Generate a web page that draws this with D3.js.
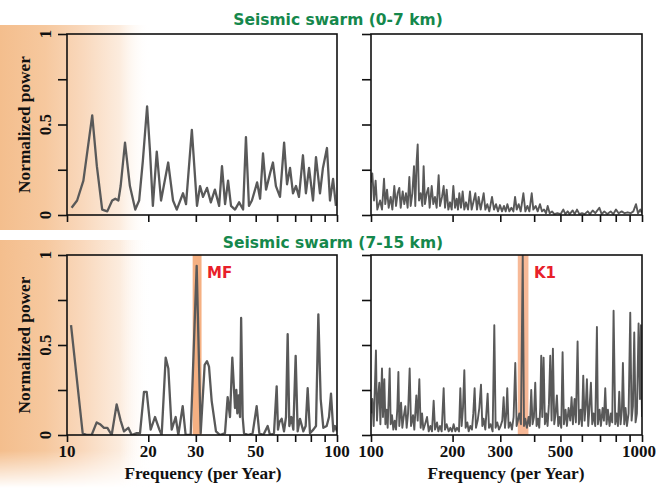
<!DOCTYPE html>
<html><head><meta charset="utf-8">
<script src="https://cdn.jsdelivr.net/npm/d3@7"></script>
<style>html,body{margin:0;padding:0;background:#fff;}svg{display:block;}</style>
</head><body>
<svg id="chart" width="657" height="488"></svg>
<script>
// ---------- DATA ----------
const titles = ["Seismic swarm (0-7 km)", "Seismic swarm (7-15 km)"];
const yLabel = "Normalized power";
const xLabel = "Frequency (per Year)";
const yTicks = [0, 0.25, 0.5, 0.75, 1];
const yTickLabels = [0, 0.5, 1];
const xTicksLow = [10, 20, 30, 40, 50, 60, 70, 80, 90, 100];
const xTicksHigh = [100, 200, 300, 400, 500, 600, 700, 800, 900, 1000];
const xTickLabelsLow = [10, 20, 30, 50, 100];
const xTickLabelsHigh = [100, 200, 300, 500, 1000];
const bandMF = [29.2, 31.5];
const bandK1 = [348, 381];

// top-left: 0-7 km, 10-100 per year
const freqTL = [10.4,10.9,11.5,12.4,12.9,13.5,14.1,14.7,15.1,15.5,15.8,16.4,17.1,17.9,18.5,19.1,19.8,20.3,20.8,21.5,22.3,23.7,24.7,25.5,26.9,27.6,29.0,30.3,31.1,31.9,33.0,34.1,35.3,36.6,37.5,38.5,39.5,40.5,41.9,43.4,44.9,46.0,47.2,48.4,50.6,51.9,53.2,54.6,56.5,57.9,59.4,61.5,63.7,65.3,67.0,68.7,70.5,72.3,74.8,76.7,78.8,81.5,83.6,86.5,88.7,91.8,94.2,96.7,99.1];
const powTL  = [0.04,0.08,0.19,0.55,0.27,0.03,0.02,0.08,0.09,0.08,0.16,0.40,0.16,0.03,0.08,0.30,0.60,0.35,0.05,0.35,0.08,0.29,0.08,0.03,0.12,0.06,0.47,0.05,0.16,0.10,0.15,0.07,0.14,0.05,0.27,0.06,0.19,0.05,0.03,0.07,0.03,0.43,0.05,0.08,0.18,0.09,0.34,0.14,0.23,0.29,0.16,0.10,0.40,0.17,0.26,0.12,0.16,0.10,0.33,0.12,0.26,0.08,0.32,0.12,0.26,0.37,0.08,0.20,0.05];

// top-right: 0-7 km, 100-1000 per year
const freqTR = [100,101.1,102.6,104.0,105.5,108.0,109.8,111.7,112.9,114.6,116.2,118.2,119.9,121.9,123.7,125.4,127.2,128.7,130.9,132.7,134.6,136.5,138.5,140.1,142.1,144.1,145.7,147.4,148.7,150.4,152.5,154.7,156.4,158.2,160.5,162.7,164.6,167.5,169.8,172.2,174.7,177.7,179.7,182.8,185.4,187.6,190.2,192.9,195.7,198.5,201.3,204.2,207.1,209.4,211.8,214.8,217.9,221.0,224.2,228.0,231.9,235.2,238.6,242.7,246.1,249.6,253.9,256.8,260.5,264.2,268.7,273.3,279.6,284.4,289.3,294.2,299.2,304.4,309.6,314.1,318.6,324.1,329.6,335.3,340.1,344.9,350.8,356.8,365.0,371.2,377.6,384.1,391.8,397.2,405.2,412.1,420.4,427.6,435.0,442.4,448.7,456.4,465.5,474.8,487.1,501.2,512.6,521.4,531.8,540.9,554.9,564.4,575.7,587.3,600.7,614.4,630.3,642.9,657.6,672.7,696.1,710.0,726.1,745.0,766.3,783.9,801.8,820.2,841.4,863.0,885.4,908.2,929.0,950.4,966.5,985.8,1000];
const powTR  = [0.18,0.23,0.08,0.19,0.03,0.08,0.03,0.20,0.06,0.14,0.04,0.10,0.03,0.16,0.05,0.12,0.15,0.04,0.13,0.06,0.12,0.04,0.21,0.05,0.12,0.27,0.05,0.30,0.39,0.08,0.12,0.05,0.27,0.06,0.12,0.15,0.04,0.16,0.06,0.10,0.04,0.22,0.05,0.10,0.16,0.04,0.14,0.03,0.07,0.03,0.16,0.04,0.09,0.03,0.12,0.04,0.13,0.03,0.07,0.03,0.13,0.03,0.07,0.12,0.03,0.10,0.03,0.07,0.12,0.03,0.06,0.02,0.10,0.03,0.06,0.02,0.055,0.02,0.05,0.02,0.06,0.02,0.04,0.02,0.10,0.03,0.06,0.02,0.12,0.02,0.05,0.02,0.12,0.03,0.05,0.02,0.06,0.02,0.03,0.01,0.05,0.01,0.02,0.005,0.01,0.005,0.03,0.005,0.02,0.005,0.025,0.005,0.03,0.005,0.01,0.005,0.02,0.005,0.025,0.01,0.04,0.005,0.02,0.005,0.02,0.005,0.03,0.01,0.02,0.01,0.015,0.01,0.02,0.06,0.01,0.03,0.01];

// bottom-left: 7-15 km, 10-100 per year
const freqBL = [10.35,11.43,11.83,12.34,12.88,13.25,13.71,14.11,14.64,15.27,15.80,16.26,16.87,17.36,18.12,18.64,19.28,19.73,20.41,21.18,21.98,22.42,23.20,23.73,24.42,25.26,25.84,26.82,27.51,28.71,30.22,31.27,32.35,33.0,33.57,34.34,35.63,36.87,38.47,39.36,40.15,40.95,41.90,42.38,42.74,43.23,43.73,44.15,44.73,45.24,46.95,48.71,50.40,51.56,53.36,55.36,56.47,58.43,59.78,60.46,61.15,62.38,63.64,64.73,65.66,66.60,67.74,68.91,70.29,71.50,72.94,75.05,76.55,77.87,79.43,81.73,83.60,85.29,87.00,89.00,91.57,93.41,95.01,96.92,98.31,100];
const powBL  = [0.61,0.01,0.00,0.00,0.07,0.06,0.04,0.04,0.00,0.17,0.08,0.02,0.04,0.00,0.01,0.01,0.24,0.24,0.03,0.10,0.03,0.00,0.43,0.37,0.03,0.10,0.00,0.16,0.00,0.00,0.94,0.01,0.39,0.41,0.38,0.19,0.02,0.00,0.01,0.21,0.10,0.43,0.15,0.25,0.12,0.22,0.10,0.65,0.10,0.01,0.00,0.01,0.16,0.01,0.00,0.05,0.00,0.01,0.27,0.03,0.07,0.09,0.02,0.10,0.56,0.05,0.10,0.03,0.44,0.02,0.09,0.02,0.05,0.26,0.01,0.03,0.05,0.67,0.20,0.04,0.05,0.10,0.23,0.02,0.05,0.02];

// bottom-right: 7-15 km, 100-1000 per year
const freqBR = [100,101.1,102.3,103.5,104.3,105.2,106.4,107.3,108.3,109.2,109.8,110.7,112.0,113.0,114.2,115.2,116.2,117.2,118.2,119.5,120.9,122.3,123.7,125.1,126.2,127.2,129.1,130.5,132.0,133.9,135.4,137.0,138.9,140.5,142.9,144.5,147.0,148.7,150.8,152.5,154.3,156.0,158.3,161.0,163.3,165.6,167.9,170.3,172.3,175.2,177.2,179.7,182.3,185.4,187.5,190.2,193.5,196.2,199.0,201.8,204.7,207.6,211.2,213.6,216.0,218.5,221.0,223.5,226.7,229.3,232.5,235.8,238.5,241.2,244.0,247.5,251.0,254.6,257.5,260.4,264.1,269.4,272.5,276.3,281.1,285.1,288.3,292.4,296.6,300.8,305.1,308.6,312.1,315.6,318.3,322.0,326.5,331.2,335.9,340.7,344.6,348.5,352.5,357.5,363.0,366.9,371.1,376.1,381.5,385.8,390.2,394.7,399.2,403.7,408.3,413.0,417.7,421.2,424.8,428.5,433.4,438.3,443.3,448.3,453.4,458.6,463.8,469.1,474.5,479.9,485.3,490.9,496.5,503.5,509.3,515.1,522.4,528.4,535.9,543.5,549.7,556.0,563.9,570.3,578.5,585.1,593.4,600.2,607.0,613.9,620.9,626.2,633.3,640.6,647.9,655.2,662.7,672.2,681.8,687.6,697.4,705.3,715.4,723.5,731.8,740.1,748.6,759.2,767.9,776.6,785.5,796.7,805.8,815.0,824.2,833.6,843.1,850.3,860.0,869.8,879.7,892.3,905.0,915.3,925.7,936.3,946.9,957.7,971.4,982.5,990.8,1000];
const powBR  = [0.12,0.20,0.05,0.30,0.47,0.08,0.22,0.29,0.06,0.25,0.37,0.10,0.31,0.06,0.14,0.04,0.20,0.37,0.06,0.11,0.03,0.08,0.03,0.15,0.35,0.05,0.18,0.04,0.10,0.16,0.04,0.12,0.37,0.05,0.11,0.03,0.22,0.08,0.31,0.04,0.12,0.03,0.06,0.10,0.02,0.05,0.02,0.19,0.03,0.07,0.02,0.05,0.02,0.26,0.03,0.06,0.02,0.04,0.02,0.06,0.02,0.04,0.02,0.26,0.05,0.15,0.36,0.04,0.07,0.02,0.05,0.03,0.12,0.26,0.04,0.08,0.15,0.28,0.05,0.09,0.03,0.23,0.04,0.06,0.02,0.61,0.04,0.07,0.03,0.05,0.08,0.21,0.04,0.12,0.26,0.04,0.07,0.03,0.10,0.40,0.05,0.08,0.12,0.06,1.00,0.05,0.09,0.04,0.10,0.05,0.25,0.06,0.10,0.29,0.05,0.09,0.04,0.15,0.44,0.10,0.43,0.06,0.12,0.05,0.17,0.44,0.08,0.48,0.06,0.12,0.22,0.05,0.10,0.04,0.46,0.06,0.14,0.05,0.15,0.08,0.21,0.06,0.20,0.07,0.52,0.06,0.14,0.05,0.33,0.08,0.18,0.31,0.05,0.16,0.29,0.06,0.12,0.05,0.60,0.06,0.14,0.05,0.15,0.08,0.26,0.06,0.14,0.05,0.12,0.07,0.69,0.06,0.12,0.05,0.24,0.06,0.14,0.40,0.06,0.15,0.05,0.12,0.68,0.08,0.16,0.57,0.07,0.12,0.62,0.20,0.61,0.10];

// ---------- DRAW ----------
const svg = d3.select("#chart");
const defs = svg.append("defs");

// orange left-side background wash
const grad = defs.append("linearGradient").attr("id","wash").attr("x1","0").attr("x2","1").attr("y1","0").attr("y2","0");
[[0,"#f4be8d",1],[0.3,"#f6c89e",1],[0.55,"#f9d8bc",1],[0.8,"#fcecde",1],[1,"#ffffff",0]].forEach(s=>
  grad.append("stop").attr("offset",s[0]).attr("stop-color",s[1]).attr("stop-opacity",s[2]));
const vgrad = defs.append("linearGradient").attr("id","vfade").attr("x1","0").attr("x2","0").attr("y1","0").attr("y2","1");
[[0,"#fff",1],[0.85,"#fff",1],[1,"#fff",0]].forEach(s=>
  vgrad.append("stop").attr("offset",s[0]).attr("stop-color",s[1]).attr("stop-opacity",s[2]));
defs.append("mask").attr("id","bmask").append("rect").attr("x",0).attr("y",240).attr("width",160).attr("height",248).attr("fill","url(#vfade)");
svg.append("rect").attr("x",0).attr("y",25).attr("width",150).attr("height",205).attr("fill","url(#wash)");
svg.append("rect").attr("x",0).attr("y",240).attr("width",150).attr("height",248).attr("fill","url(#wash)").attr("mask","url(#bmask)");

const panels = [
  {x0:67, x1:337, y0:34, y1:215, dom:[10,100], ticks:xTicksLow, f:freqTL, p:powTL, left:true, bottom:false, sw:2.3},
  {x0:371, x1:642, y0:34, y1:215, dom:[100,1000], ticks:xTicksHigh, f:freqTR, p:powTR, left:false, bottom:false, sw:1.9},
  {x0:67, x1:337, y0:255, y1:435, dom:[10,100], ticks:xTicksLow, labels:xTickLabelsLow, f:freqBL, p:powBL, left:true, bottom:true, sw:2.3, band:bandMF, bandColor:"#f3a26c", bandLabel:"MF", labelX:207, xlabX:203},
  {x0:371, x1:642, y0:255, y1:435, dom:[100,1000], ticks:xTicksHigh, labels:xTickLabelsHigh, f:freqBR, p:powBR, left:false, bottom:true, sw:1.9, band:bandK1, bandColor:"#f6ad85", bandLabel:"K1", labelX:534, xlabX:506}
];

panels.forEach((P,i)=>{
  const x = d3.scaleLog().domain(P.dom).range([P.x0,P.x1]);
  const y = d3.scaleLinear().domain([0,1]).range([P.y1,P.y0]);
  const g = svg.append("g");
  const cid = "clip"+i;
  defs.append("clipPath").attr("id",cid).append("rect").attr("x",P.x0).attr("y",P.y0).attr("width",P.x1-P.x0).attr("height",P.y1-P.y0);

  if (P.band) {
    g.append("rect").attr("x",x(P.band[0])).attr("y",P.y0).attr("width",x(P.band[1])-x(P.band[0])).attr("height",P.y1-P.y0)
      .attr("fill",P.bandColor).attr("opacity",0.85);
  }

  const data = P.f.map((f,k)=>[f,P.p[k]]);
  g.append("path").datum(data).attr("clip-path",`url(#${cid})`)
    .attr("d", d3.line().x(d=>x(d[0])).y(d=>y(d[1])))
    .attr("fill","none").attr("stroke","#595959").attr("stroke-width",P.sw).attr("stroke-linejoin","round");

  // frame
  g.append("rect").attr("x",P.x0).attr("y",P.y0).attr("width",P.x1-P.x0).attr("height",P.y1-P.y0)
    .attr("fill","none").attr("stroke","#111").attr("stroke-width",1.6);

  // x axis
  const xa = g.append("g").attr("transform",`translate(0,${P.y1})`)
    .call(d3.axisBottom(x).tickValues(P.ticks).tickSize(7).tickSizeOuter(0).tickFormat(""));
  xa.select(".domain").remove();
  xa.selectAll("line").attr("stroke","#111").attr("stroke-width",1.6);
  if (P.labels) {
    g.selectAll(null).data(P.labels).enter().append("text")
      .attr("x",d=> d===1000 ? 656 : x(d)).attr("y",P.y1+22).attr("text-anchor",d=> d===1000 ? "end" : "middle")
      .attr("font-family","'Liberation Serif', 'Times New Roman', serif").attr("font-weight","bold").attr("font-size",17)
      .attr("fill","#111").text(d=>d);
    g.append("text").attr("x",P.xlabX).attr("y",P.y1+44).attr("text-anchor","middle")
      .attr("font-family","'Liberation Serif', 'Times New Roman', serif").attr("font-weight","bold").attr("font-size",17.3)
      .attr("fill","#111").text(xLabel);
  }

  // y axis
  const ya = g.append("g").attr("transform",`translate(${P.x0},0)`)
    .call(d3.axisLeft(y).tickValues(yTicks).tickSize(9).tickSizeOuter(0).tickFormat(""));
  ya.select(".domain").remove();
  ya.selectAll("line").attr("stroke","#111").attr("stroke-width",1.6);
  if (P.left) {
    g.selectAll(null).data(yTickLabels).enter().append("text")
      .attr("transform",d=>`translate(51,${y(d)}) rotate(-90)`).attr("text-anchor","middle")
      .attr("font-family","'Liberation Serif', 'Times New Roman', serif").attr("font-weight","bold").attr("font-size",17)
      .attr("fill","#111").text(d=>d);
    g.append("text").attr("transform",`translate(30,${(P.y0+P.y1)/2}) rotate(-90)`).attr("text-anchor","middle")
      .attr("font-family","'Liberation Serif', 'Times New Roman', serif").attr("font-weight","bold").attr("font-size",17.3)
      .attr("fill","#111").text(yLabel);
  }

  if (P.bandLabel) {
    g.append("text").attr("x",P.labelX).attr("y",P.y0+23)
      .attr("font-family","'DejaVu Sans', sans-serif").attr("font-weight","bold").attr("font-size",15)
      .attr("fill","#e8202a").text(P.bandLabel);
  }
});

// titles
svg.append("text").attr("x",338).attr("y",25).attr("text-anchor","middle")
  .attr("font-family","'DejaVu Sans', sans-serif").attr("font-weight","bold").attr("font-size",15.5)
  .attr("fill","#15884c").text(titles[0]);
svg.append("text").attr("x",333).attr("y",248).attr("text-anchor","middle")
  .attr("font-family","'DejaVu Sans', sans-serif").attr("font-weight","bold").attr("font-size",15.5)
  .attr("fill","#15884c").text(titles[1]);
</script>
</body></html>
